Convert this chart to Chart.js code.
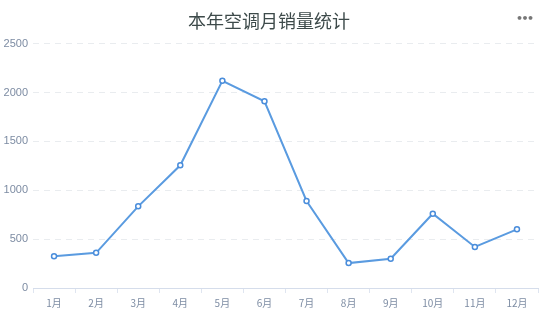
<!DOCTYPE html>
<html>
<head>
<meta charset="utf-8">
<script src="https://cdn.jsdelivr.net/npm/chart.js@4/dist/chart.umd.min.js"></script>
<style>
  html, body { margin: 0; padding: 0; background: #fff; }
  #wrap { position: relative; width: 556px; height: 318px; }
  #menu { position: absolute; left: 516px; top: 12px; font: bold 11px "DejaVu Sans", sans-serif; color: #777; letter-spacing: -1.5px; }
</style>
</head>
<body>
<div id="wrap">
  <canvas id="c" width="556" height="318"></canvas>
  <div id="menu">•••</div>
</div>
<script>
const titleText = "本年空调月销量统计";
const categories = ["1月","2月","3月","4月","5月","6月","7月","8月","9月","10月","11月","12月"];
const sales = [325, 360, 835, 1255, 2120, 1910, 890, 255, 300, 760, 420, 600];
const yTicks = [0, 500, 1000, 1500, 2000, 2500];

new Chart(document.getElementById("c"), {
  type: "line",
  data: {
    labels: categories,
    datasets: [{
      data: sales,
      borderColor: "#5a9be0",
      borderWidth: 2,
      pointRadius: 2.5,
      pointBorderWidth: 1.5,
      pointBackgroundColor: "#ffffff",
      pointBorderColor: "#4a8ddb",
      tension: 0,
      fill: false
    }]
  },
  options: {
    responsive: false,
    animation: false,
    layout: { padding: { left: 0, right: 18, top: 0, bottom: 0 } },
    plugins: {
      legend: { display: false },
      tooltip: { enabled: false },
      title: {
        display: true,
        text: titleText,
        color: "#3d4a4a",
        font: { family: "'Noto Sans CJK SC', sans-serif", size: 18, weight: "normal" },
        padding: { top: 10, bottom: 12 }
      }
    },
    scales: {
      x: {
        offset: true,
        grid: { offset: true, drawOnChartArea: false, drawTicks: true, tickLength: 5, color: "#dfe5f0" },
        border: { color: "#d5ddeb", width: 1 },
        ticks: { color: "#7d8ca3", font: { family: "'Noto Sans CJK SC', sans-serif", size: 10 }, padding: 4, autoSkip: false, maxRotation: 0 },
        afterFit: (a) => { a.height = 30; }
      },
      y: {
        min: 0, max: 2500,
        afterBuildTicks: (a) => { a.ticks = yTicks.map(v => ({ value: v })); },
        grid: { color: "#e9ecef", drawTicks: false, lineWidth: 1 },
        border: { display: false, dash: [6, 5] },
        ticks: { color: "#7d8ca3", font: { family: "'Liberation Sans', sans-serif", size: 11 }, padding: 5, callback: (v) => String(v) },
        afterFit: (a) => { a.width = 33; }
      }
    }
  }
});
</script>
</body>
</html>
